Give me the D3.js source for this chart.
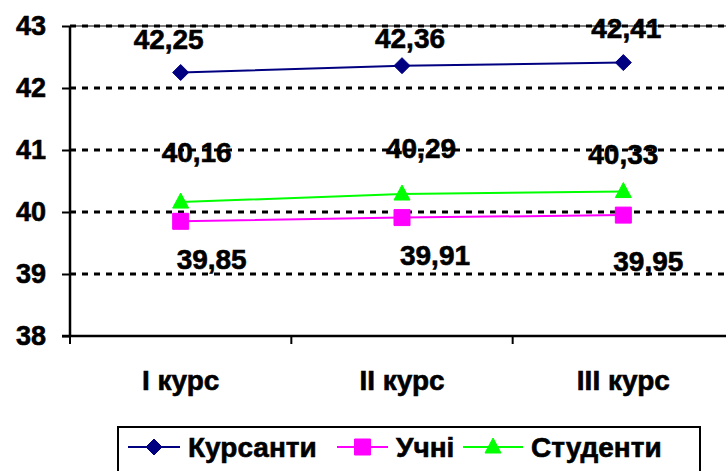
<!DOCTYPE html>
<html>
<head>
<meta charset="utf-8">
<script src="https://cdn.jsdelivr.net/npm/d3@7"></script>
<style>
  html, body { margin: 0; padding: 0; background: #fff; }
  svg { display: block; font-family: Arial, "Liberation Sans", sans-serif; font-weight: bold; }
  svg text { stroke: #000; stroke-width: 0.6px; }
</style>
</head>
<body>
<svg id="chart" width="726" height="471"></svg>
<script>
// Categories and series values
const categories = ["I курс", "II курс", "III курс"];
const seriesNames = ["Курсанти", "Учні", "Студенти"];
const kursanty = [42.25, 42.36, 42.41];
const uchni = [39.85, 39.91, 39.95];
const studenty = [40.16, 40.29, 40.33];
const yTicks = [38, 39, 40, 41, 42, 43];

// Label placement (pixel shift from each point: [dx, dy])
const labelShiftK = [[-12, -24], [8, -18], [3, -25]];
const labelShiftU = [[31, 48], [33, 47], [25, 56]];
const labelShiftS = [[16, -40], [19, -36], [0, -28]];

const series = [
  { name: seriesNames[0], values: kursanty, color: "#000080", marker: "diamond", shift: labelShiftK },
  { name: seriesNames[1], values: uchni, color: "#FF00FF", marker: "square", shift: labelShiftU },
  { name: seriesNames[2], values: studenty, color: "#00FF00", marker: "triangle", shift: labelShiftS }
];

const svg = d3.select("#chart");
const plotLeft = 70, plotRight = 734, plotTop = 26, plotBottom = 336;

const x = d3.scaleBand().domain(categories).range([plotLeft, plotRight]);
const y = d3.scaleLinear().domain([38, 43]).range([plotBottom, plotTop]);
const cx = c => x(c) + x.bandwidth() / 2;

const fmt = v => d3.format(".2f")(v).replace(".", ",");

// Plot border (top edge)
svg.append("line")
  .attr("x1", plotLeft).attr("x2", 726).attr("y1", y(43)).attr("y2", y(43))
  .attr("stroke", "#808080").attr("stroke-width", 2);

// Dashed gridlines
svg.append("g").selectAll("line")
  .data(yTicks.filter(t => t > 38))
  .join("line")
  .attr("x1", plotLeft).attr("x2", plotRight)
  .attr("y1", d => y(d)).attr("y2", d => y(d))
  .attr("stroke", "#000").attr("stroke-width", 3)
  .attr("stroke-dasharray", "6,6");

// Y axis
const yAxis = svg.append("g").attr("transform", `translate(${plotLeft},0)`)
  .call(d3.axisLeft(y).tickValues(yTicks).tickSize(8).tickPadding(16).tickFormat(d3.format("d")));
yAxis.select(".domain").attr("stroke", "#000").attr("stroke-width", 2.5)
  .attr("d", `M0,${plotTop}V${plotBottom}`);
yAxis.selectAll(".tick line").attr("stroke", "#000").attr("stroke-width", 2);
yAxis.selectAll(".tick text").attr("font-size", 27).attr("font-weight", "bold")
  .attr("font-family", "Arial, 'Liberation Sans', sans-serif").attr("fill", "#000");

// X axis
const xAxis = svg.append("g").attr("transform", `translate(0,${plotBottom})`)
  .call(d3.axisBottom(x).tickSize(0).tickPadding(34));
xAxis.select(".domain").attr("stroke", "#000").attr("stroke-width", 2.5)
  .attr("d", `M${plotLeft - 8},0H${plotRight}`);
xAxis.selectAll(".tick text").attr("font-size", 28).attr("font-weight", "bold")
  .attr("font-family", "Arial, 'Liberation Sans', sans-serif").attr("fill", "#000");
// Category separator ticks
svg.append("g").selectAll("line")
  .data(categories.concat([null]))
  .join("line")
  .attr("x1", (d, i) => i < categories.length ? x(d) : plotRight)
  .attr("x2", (d, i) => i < categories.length ? x(d) : plotRight)
  .attr("y1", plotBottom).attr("y2", plotBottom + 8)
  .attr("stroke", "#000").attr("stroke-width", 2);

// Marker shapes
function markerPath(type) {
  if (type === "diamond") return "M0,-8L8,0L0,8L-8,0Z";
  if (type === "square") return "M-8,-8H8V8H-8Z";
  return "M0,-9L8,6H-8Z";
}

const lineGen = d3.line().x((d, i) => cx(categories[i])).y(d => y(d));

series.forEach(s => {
  const g = svg.append("g");
  g.append("path").attr("d", lineGen(s.values))
    .attr("fill", "none").attr("stroke", s.color).attr("stroke-width", 2);
  g.selectAll("path.m").data(s.values).join("path").attr("class", "m")
    .attr("d", markerPath(s.marker))
    .attr("transform", (d, i) => `translate(${cx(categories[i])},${y(d)})`)
    .attr("fill", s.color).attr("stroke", s.color).attr("stroke-width", 1);
  g.selectAll("text").data(s.values).join("text")
    .attr("x", (d, i) => cx(categories[i]) + s.shift[i][0])
    .attr("y", (d, i) => y(d) + s.shift[i][1])
    .attr("text-anchor", "middle").attr("font-size", 28).attr("fill", "#000")
    .text(d => fmt(d));
});

// Legend
const legend = svg.append("g");
legend.append("rect").attr("x", 118).attr("y", 427).attr("width", 582).attr("height", 60)
  .attr("fill", "#fff").attr("stroke", "#000").attr("stroke-width", 2);
const legendX = [128, 337, 463];
const legendKeyLen = [52, 51, 60];
const legendY = 447;
series.forEach((s, i) => {
  const gx = legendX[i];
  const len = legendKeyLen[i];
  legend.append("line").attr("x1", gx).attr("x2", gx + len).attr("y1", legendY).attr("y2", legendY)
    .attr("stroke", s.color).attr("stroke-width", 2);
  legend.append("path").attr("d", markerPath(s.marker))
    .attr("transform", `translate(${gx + len / 2},${legendY})`)
    .attr("fill", s.color).attr("stroke", s.color);
  legend.append("text").attr("x", gx + len + 8).attr("y", legendY + 10)
    .attr("font-size", 28).attr("fill", "#000").text(s.name);
});
</script>
</body>
</html>
